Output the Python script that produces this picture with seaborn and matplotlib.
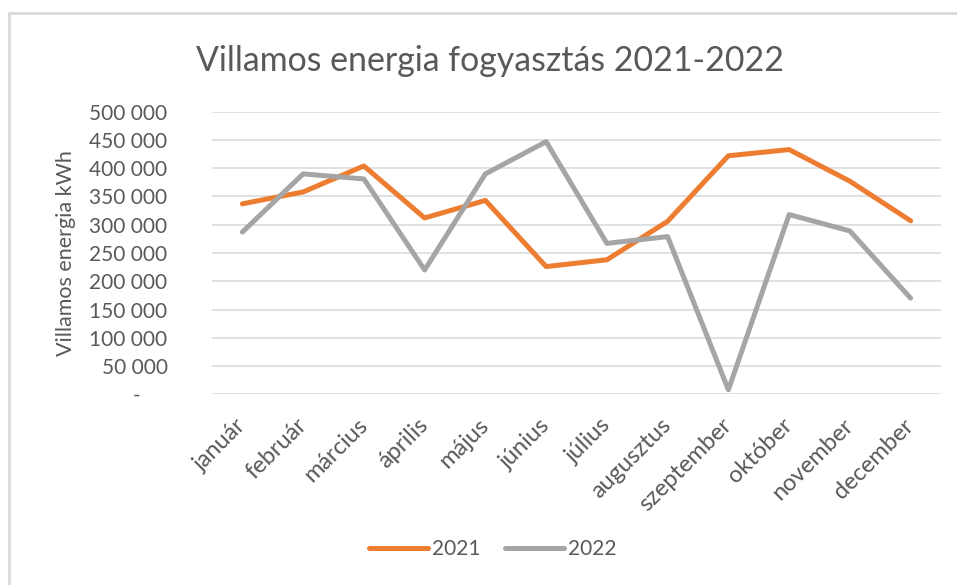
import pandas as pd
import matplotlib.pyplot as plt
import matplotlib.lines as mlines
from matplotlib.ticker import FuncFormatter
import seaborn as sns

months = ['január', 'február', 'március', 'április', 'május', 'június',
          'július', 'augusztus', 'szeptember', 'október', 'november', 'december']
y2021 = [337000, 358000, 404000, 312000, 343000, 226000,
         238000, 306000, 422000, 433000, 377000, 307000]
y2022 = [287000, 390000, 381000, 220000, 390000, 447000,
         267000, 279000, 8000, 318000, 289000, 170000]
years = ['2021', '2022']
colors = ['#ED7D31', '#A5A5A5']

# long format for seaborn
df = pd.DataFrame({
    'honap': months * 2,
    'ertek': y2021 + y2022,
    'ev': [years[0]] * 12 + [years[1]] * 12,
})

sns.set_style('white')
plt.rcParams['font.family'] = ['Lato', 'DejaVu Sans']
txt = '#595959'

fig = plt.figure(figsize=(9.57, 5.85), dpi=100)
ax = fig.add_axes([212 / 957, 1 - 394.3 / 585, 729 / 957, 282.6 / 585])

sns.lineplot(data=df, x='honap', y='ertek', hue='ev', palette=colors,
             linewidth=3.6, sort=False, legend=False, ax=ax)
for ln in ax.lines:
    ln.set_solid_capstyle('round')
    ln.set_solid_joinstyle('round')

ax.set_xlim(-0.5, 11.5)
ax.set_ylim(0, 500000)
ax.set_yticks(range(0, 500001, 50000))
ax.yaxis.set_major_formatter(FuncFormatter(
    lambda v, p: '-     ' if v == 0 else f'{int(v):,}'.replace(',', ' ')))
ax.grid(axis='y', color='#D9D9D9', linewidth=1.1)
ax.set_axisbelow(True)
for s in ax.spines.values():
    s.set_visible(False)
ax.tick_params(axis='both', length=0, colors=txt)
ax.tick_params(axis='y', pad=32, labelsize=15)
ax.tick_params(axis='x', pad=20, labelsize=17)
plt.setp(ax.get_xticklabels(), rotation=45, ha='right', va='center',
         rotation_mode='anchor')

ax.set_xlabel('')
ax.set_ylabel('Villamos energia kWh', color=txt, fontsize=15.5, labelpad=10)

fig.text(490 / 957, 1 - 61 / 585, 'Villamos energia fogyasztás 2021-2022',
         ha='center', va='center', fontsize=24.4, color=txt)

handles = [mlines.Line2D([], [], color=c, linewidth=3.6, solid_capstyle='round')
           for c in colors]
fig.legend(handles, years, loc='center', bbox_to_anchor=(493 / 957, 1 - 549 / 585),
           ncol=2, frameon=False, fontsize=15, labelcolor=txt,
           handlelength=2.8, handletextpad=0.2, columnspacing=1.2)

# chart area frame (top and left edges visible)
fig.add_artist(mlines.Line2D([9 / 957, 1], [1 - 13 / 585, 1 - 13 / 585],
                             color='#D9D9D9', linewidth=2, transform=fig.transFigure))
fig.add_artist(mlines.Line2D([9 / 957, 9 / 957], [0, 1 - 13 / 585],
                             color='#D9D9D9', linewidth=2, transform=fig.transFigure))

fig.savefig('out.png', dpi=100, facecolor='white')
